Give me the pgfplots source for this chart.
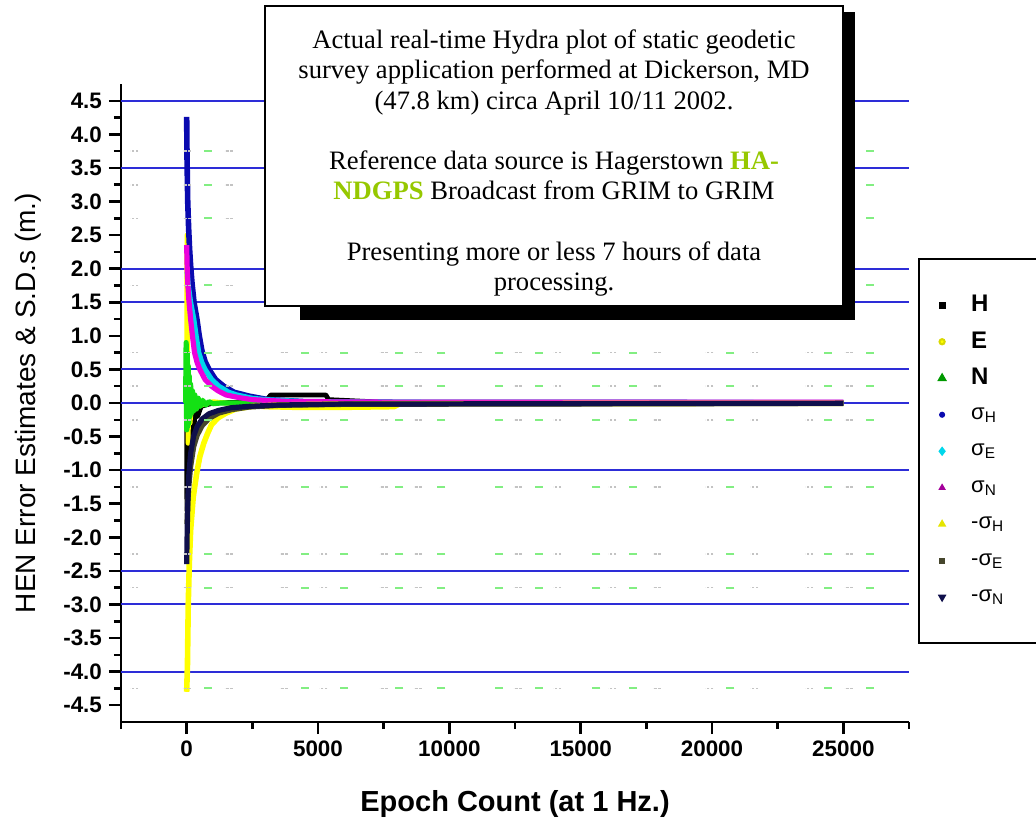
\documentclass[border=0pt]{standalone}
\usepackage{fontspec}
\setmainfont{Liberation Serif}
\newfontfamily\arial{Liberation Sans}
\usepackage{pgfplots}
\pgfplotsset{compat=1.18}
\definecolor{gridblue}{RGB}{45,45,215}
\definecolor{sgH}{RGB}{10,10,175}
\definecolor{sgE}{RGB}{0,215,235}
\definecolor{sgN}{RGB}{235,0,220}
\definecolor{ylw}{RGB}{255,255,0}
\definecolor{olivd}{RGB}{70,70,45}
\definecolor{navyd}{RGB}{15,15,75}
\definecolor{grn}{RGB}{20,225,20}
\definecolor{dashgreen}{RGB}{130,238,130}
\definecolor{dashgray}{RGB}{195,195,195}
\definecolor{hagreen}{RGB}{150,200,0}
\begin{document}
\begin{tikzpicture}
\useasboundingbox (0,0) rectangle (518pt,409.5pt);
\begin{axis}[
  at={(60.5pt,48.5pt)}, anchor=south west,
  scale only axis, width=394pt, height=319pt,
  xmin=-2500, xmax=27500, ymin=-4.75, ymax=4.75,
  axis lines*=left,
  axis line style={line width=1.25pt, black},
  every tick/.style={line width=1.25pt, black},
  tick align=outside,
  major tick length=6pt, minor tick length=3.5pt,
  scaled x ticks=false, scaled y ticks=false,
  xtick={0,5000,10000,15000,20000,25000},
  xticklabels={0,5000,10000,15000,20000,25000},
  minor xtick={-2500,2500,7500,12500,17500,22500,27500},
  ytick={-4.5,-4,-3.5,-3,-2.5,-2,-1.5,-1,-0.5,0,0.5,1,1.5,2,2.5,3,3.5,4,4.5},
  yticklabels={-4.5,-4.0,-3.5,-3.0,-2.5,-2.0,-1.5,-1.0,-0.5,0.0,0.5,1.0,1.5,2.0,2.5,3.0,3.5,4.0,4.5},
  minor ytick={-4.25,-3.75,-3.25,-2.75,-2.25,-1.75,-1.25,-0.75,-0.25,0.25,0.75,1.25,1.75,2.25,2.75,3.25,3.75,4.25},
  tick label style={font=\arial\bfseries\fontsize{11.2}{12}\selectfont},
  xlabel={Epoch Count (at 1 Hz.)},
  ylabel={HEN Error Estimates \& S.D.s (m.)},
  xlabel style={font=\arial\bfseries\fontsize{14.5}{15}\selectfont, at={(axis description cs:0.5,-0.141)}, anchor=base},
  every axis y label/.style={at={(axis description cs:-0.109,0.5)}, rotate=90, anchor=base, font=\arial\fontsize{14}{15}\selectfont},
  legend style={at={(axis description cs:1.0114,0.7273)}, anchor=north west,
    draw=black, line width=1pt, fill=white, inner xsep=10pt, inner ysep=14pt,
    column sep=13pt, nodes={inner sep=0pt, minimum height=18.25pt, text width=2.2cm},
    font=\arial},
  legend cell align=left,
]
% blue reference lines
\addplot[gridblue, line width=1pt, forget plot] coordinates {(-2500,4.5) (27500,4.5)};
\addplot[gridblue, line width=1pt, forget plot] coordinates {(-2500,3.5) (27500,3.5)};
\addplot[gridblue, line width=1pt, forget plot] coordinates {(-2500,2.0) (27500,2.0)};
\addplot[gridblue, line width=1pt, forget plot] coordinates {(-2500,1.5) (27500,1.5)};
\addplot[gridblue, line width=1pt, forget plot] coordinates {(-2500,0.5) (27500,0.5)};
\addplot[gridblue, line width=1pt, forget plot] coordinates {(-2500,0.0) (27500,0.0)};
\addplot[gridblue, line width=1pt, forget plot] coordinates {(-2500,-1.0) (27500,-1.0)};
\addplot[gridblue, line width=1pt, forget plot] coordinates {(-2500,-2.5) (27500,-2.5)};
\addplot[gridblue, line width=1pt, forget plot] coordinates {(-2500,-3.0) (27500,-3.0)};
\addplot[gridblue, line width=1pt, forget plot] coordinates {(-2500,-4.0) (27500,-4.0)};
% faint dash marks
\addplot[only marks, mark=-, mark size=2pt, dashgray, mark options={line width=0.8pt, dash pattern=on 1.2pt off 0.8pt}, forget plot] coordinates {
(-2000,3.75) (0,3.75) (1600,3.75)
(-2000,3.25) (0,3.25) (1600,3.25)
(-2000,2.75) (0,2.75) (1600,2.75)
(-2000,1.75) (0,1.75) (1600,1.75)
(-2000,0.75) (0,0.75) (1600,0.75) (3700,0.75) (5200,0.75) (7500,0.75) (8800,0.75) (12600,0.75) (14100,0.75) (16200,0.75) (17900,0.75) (19900,0.75) (21600,0.75) (23700,0.75) (25200,0.75)
(-2000,0.25) (0,0.25) (1600,0.25) (3700,0.25) (5200,0.25) (7500,0.25) (8800,0.25) (12600,0.25) (14100,0.25) (16200,0.25) (17900,0.25) (19900,0.25) (21600,0.25) (23700,0.25) (25200,0.25)
(-2000,-0.25) (0,-0.25) (1600,-0.25) (3700,-0.25) (5200,-0.25) (7500,-0.25) (8800,-0.25) (12600,-0.25) (14100,-0.25) (16200,-0.25) (17900,-0.25) (19900,-0.25) (21600,-0.25) (23700,-0.25) (25200,-0.25)
(-2000,-1.25) (0,-1.25) (1600,-1.25) (3700,-1.25) (5200,-1.25) (7500,-1.25) (8800,-1.25) (12600,-1.25) (14100,-1.25) (16200,-1.25) (17900,-1.25) (19900,-1.25) (21600,-1.25) (23700,-1.25) (25200,-1.25)
(-2000,-2.25) (0,-2.25) (1600,-2.25) (3700,-2.25) (5200,-2.25) (7500,-2.25) (8800,-2.25) (12600,-2.25) (14100,-2.25) (16200,-2.25) (17900,-2.25) (19900,-2.25) (21600,-2.25) (23700,-2.25) (25200,-2.25)
(-2000,-2.75) (0,-2.75) (1600,-2.75) (3700,-2.75) (5200,-2.75) (7500,-2.75) (8800,-2.75) (12600,-2.75) (14100,-2.75) (16200,-2.75) (17900,-2.75) (19900,-2.75) (21600,-2.75) (23700,-2.75) (25200,-2.75)
(-2000,-4.25) (0,-4.25) (1600,-4.25) (3700,-4.25) (5200,-4.25) (7500,-4.25) (8800,-4.25) (12600,-4.25) (14100,-4.25) (16200,-4.25) (17900,-4.25) (19900,-4.25) (21600,-4.25) (23700,-4.25) (25200,-4.25)
};
\addplot[only marks, mark=-, mark size=2pt, dashgreen, mark options={line width=1pt}, forget plot] coordinates {
(800,3.75) (26000,3.75) (800,3.25) (26000,3.25) (800,2.75) (26000,2.75) (800,1.75) (26000,1.75)
(800,0.75) (4500,0.75) (6000,0.75) (8100,0.75) (9700,0.75) (11900,0.75) (13400,0.75) (15600,0.75) (17000,0.75) (20700,0.75) (24400,0.75) (26000,0.75)
(800,0.25) (4500,0.25) (6000,0.25) (8100,0.25) (9700,0.25) (11900,0.25) (13400,0.25) (15600,0.25) (17000,0.25) (20700,0.25) (24400,0.25) (26000,0.25)
(800,-0.25) (4500,-0.25) (6000,-0.25) (8100,-0.25) (9700,-0.25) (11900,-0.25) (13400,-0.25) (15600,-0.25) (17000,-0.25) (20700,-0.25) (24400,-0.25) (26000,-0.25)
(800,-1.25) (4500,-1.25) (6000,-1.25) (8100,-1.25) (9700,-1.25) (11900,-1.25) (13400,-1.25) (15600,-1.25) (17000,-1.25) (20700,-1.25) (24400,-1.25) (26000,-1.25)
(800,-2.25) (4500,-2.25) (6000,-2.25) (8100,-2.25) (9700,-2.25) (11900,-2.25) (13400,-2.25) (15600,-2.25) (17000,-2.25) (20700,-2.25) (24400,-2.25) (26000,-2.25)
(800,-2.75) (4500,-2.75) (6000,-2.75) (8100,-2.75) (9700,-2.75) (11900,-2.75) (13400,-2.75) (15600,-2.75) (17000,-2.75) (20700,-2.75) (24400,-2.75) (26000,-2.75)
(800,-4.25) (4500,-4.25) (6000,-4.25) (8100,-4.25) (9700,-4.25) (11900,-4.25) (13400,-4.25) (15600,-4.25) (17000,-4.25) (20700,-4.25) (24400,-4.25) (26000,-4.25)
};
% H
\addplot[black, line width=2.4pt, line join=round, forget plot] coordinates {
(0,-0.2) (10,-1.6) (25,-0.5) (40,-1.3) (55,-0.4) (75,-1.0) (95,-0.3) (120,-0.8) (150,-0.2) (180,-0.6) (220,-0.15) (270,-0.4) (330,-0.1) (420,-0.2) (550,-0.05) (1000,0) (3000,0.02) (3200,0.12) (5300,0.12) (5400,0.05) (7000,0.02) (7300,0) (25000,0)};
% E
\addplot[ylw, line width=2.4pt, line join=round, forget plot] coordinates {
(0,0.3) (10,2.5) (30,1.0) (55,-0.6) (90,0.2) (130,-0.3) (220,0.1) (400,-0.05) (1000,0.02) (3000,-0.06) (4200,-0.07) (6000,-0.07) (7900,-0.06) (8200,0) (25000,0)};
% N
\addplot[grn, line width=2.6pt, line join=round, forget plot] coordinates {
(-40,0) (-20,0.9) (0,-0.4) (20,0.75) (40,-0.35) (60,0.55) (80,-0.3) (100,0.4) (125,-0.2) (150,0.28) (180,-0.15) (220,0.18) (260,-0.12) (310,0.12) (370,-0.09) (440,0.07) (520,-0.05) (610,0.04) (720,-0.03) (850,0.02) (1000,-0.01) (1300,0) (25000,0)};
% sigma H
\addplot[sgH, line width=2.8pt, line join=round, forget plot] coordinates {
(0,4.26) (15,3.6) (40,3.0) (75,2.6) (110,2.3) (150,2.05) (200,1.8) (280,1.5) (390,1.25) (480,1.0) (580,0.78) (700,0.62) (850,0.5) (1100,0.35) (1410,0.25) (1800,0.16) (2400,0.1) (3100,0.05) (4500,0.02) (8000,0.01) (25000,0.005)};
% sigma E
\addplot[sgE, line width=2.6pt, line join=round, forget plot] coordinates {
(20,1.95) (60,1.75) (150,1.5) (270,1.25) (360,1.0) (460,0.75) (580,0.6) (700,0.5) (950,0.35) (1220,0.25) (1600,0.16) (1900,0.12) (2500,0.07) (3000,0.05) (4500,0.02) (8000,0.01) (25000,0.005)};
% sigma N
\addplot[sgN, line width=2.6pt, line join=round, forget plot] coordinates {
(0,2.35) (20,2.0) (40,1.8) (80,1.55) (150,1.25) (220,1.0) (300,0.75) (400,0.6) (500,0.5) (700,0.35) (950,0.25) (1200,0.18) (1500,0.12) (2000,0.08) (2500,0.05) (4000,0.02) (8000,0.012) (25000,0.01)};
% -sigma H
\addplot[ylw, line width=2.8pt, line join=round, forget plot] coordinates {
(0,-4.3) (30,-3.9) (60,-3.0) (100,-2.4) (150,-1.9) (250,-1.4) (380,-1.05) (500,-0.8) (650,-0.6) (800,-0.45) (950,-0.32) (1200,-0.22) (1500,-0.15) (1860,-0.09) (2500,-0.05) (3500,-0.03) (5000,-0.02) (8000,-0.01) (25000,-0.005)};
% -sigma E
\addplot[olivd, line width=2.6pt, line join=round, forget plot] coordinates {
(10,-1.8) (40,-1.5) (80,-1.25) (150,-0.95) (267,-0.65) (400,-0.48) (585,-0.34) (850,-0.23) (1220,-0.15) (1700,-0.1) (2370,-0.06) (3500,-0.035) (6000,-0.02) (25000,-0.006)};
% -sigma N
\addplot[navyd, line width=2.6pt, line join=round, forget plot] coordinates {
(0,-2.4) (20,-1.9) (50,-1.4) (80,-1.08) (150,-0.75) (267,-0.49) (400,-0.35) (585,-0.24) (850,-0.16) (1220,-0.11) (1700,-0.07) (2370,-0.05) (3500,-0.03) (6000,-0.015) (25000,-0.005)};
% legend
\addlegendimage{only marks, mark=square*, mark size=1.3pt, black}
\addlegendentry{\bfseries\fontsize{12}{12}\selectfont H}
\addlegendimage{only marks, mark=*, mark size=1.3pt, ylw!85!black, fill=ylw}
\addlegendentry{\bfseries\fontsize{12}{12}\selectfont E}
\addlegendimage{only marks, mark=triangle*, mark size=1.8pt, green!60!black}
\addlegendentry{\bfseries\fontsize{12}{12}\selectfont N}
\addlegendimage{only marks, mark=*, mark size=1pt, sgH}
\addlegendentry{\fontsize{11}{11}\selectfont σ\textsubscript{H}}
\addlegendimage{only marks, mark=diamond*, mark size=1.6pt, sgE}
\addlegendentry{\fontsize{11}{11}\selectfont σ\textsubscript{E}}
\addlegendimage{only marks, mark=triangle*, mark size=1.2pt, sgN!70!black}
\addlegendentry{\fontsize{11}{11}\selectfont σ\textsubscript{N}}
\addlegendimage{only marks, mark=triangle*, mark size=1.5pt, ylw!90!black}
\addlegendentry{\fontsize{11}{11}\selectfont -σ\textsubscript{H}}
\addlegendimage{only marks, mark=square*, mark size=0.9pt, olivd}
\addlegendentry{\fontsize{11}{11}\selectfont -σ\textsubscript{E}}
\addlegendimage{only marks, mark=triangle*, mark size=1.5pt, mark options={rotate=180}, navyd}
\addlegendentry{\fontsize{11}{11}\selectfont -σ\textsubscript{N}}
\end{axis}
% annotation box with shadow
\fill[black] (150pt,249.5pt) rectangle (427.5pt,403.5pt);
\draw[line width=1pt, fill=white] (132.5pt,256.5pt) rectangle (421.5pt,406.5pt);
\node[align=center, font=\fontsize{13.3}{15.1}\selectfont, inner sep=0pt] at (277pt,328pt) {%
Actual real-time Hydra plot of static geodetic\\
survey application performed at Dickerson, MD\\
(47.8 km) circa April 10/11 2002.\\[15.1pt]
Reference data source is Hagerstown \textcolor{hagreen}{\bfseries HA-}\\
\textcolor{hagreen}{\bfseries NDGPS} Broadcast from GRIM to GRIM\\[15.1pt]
Presenting more or less 7 hours of data\\
processing.};
\end{tikzpicture}
\end{document}
